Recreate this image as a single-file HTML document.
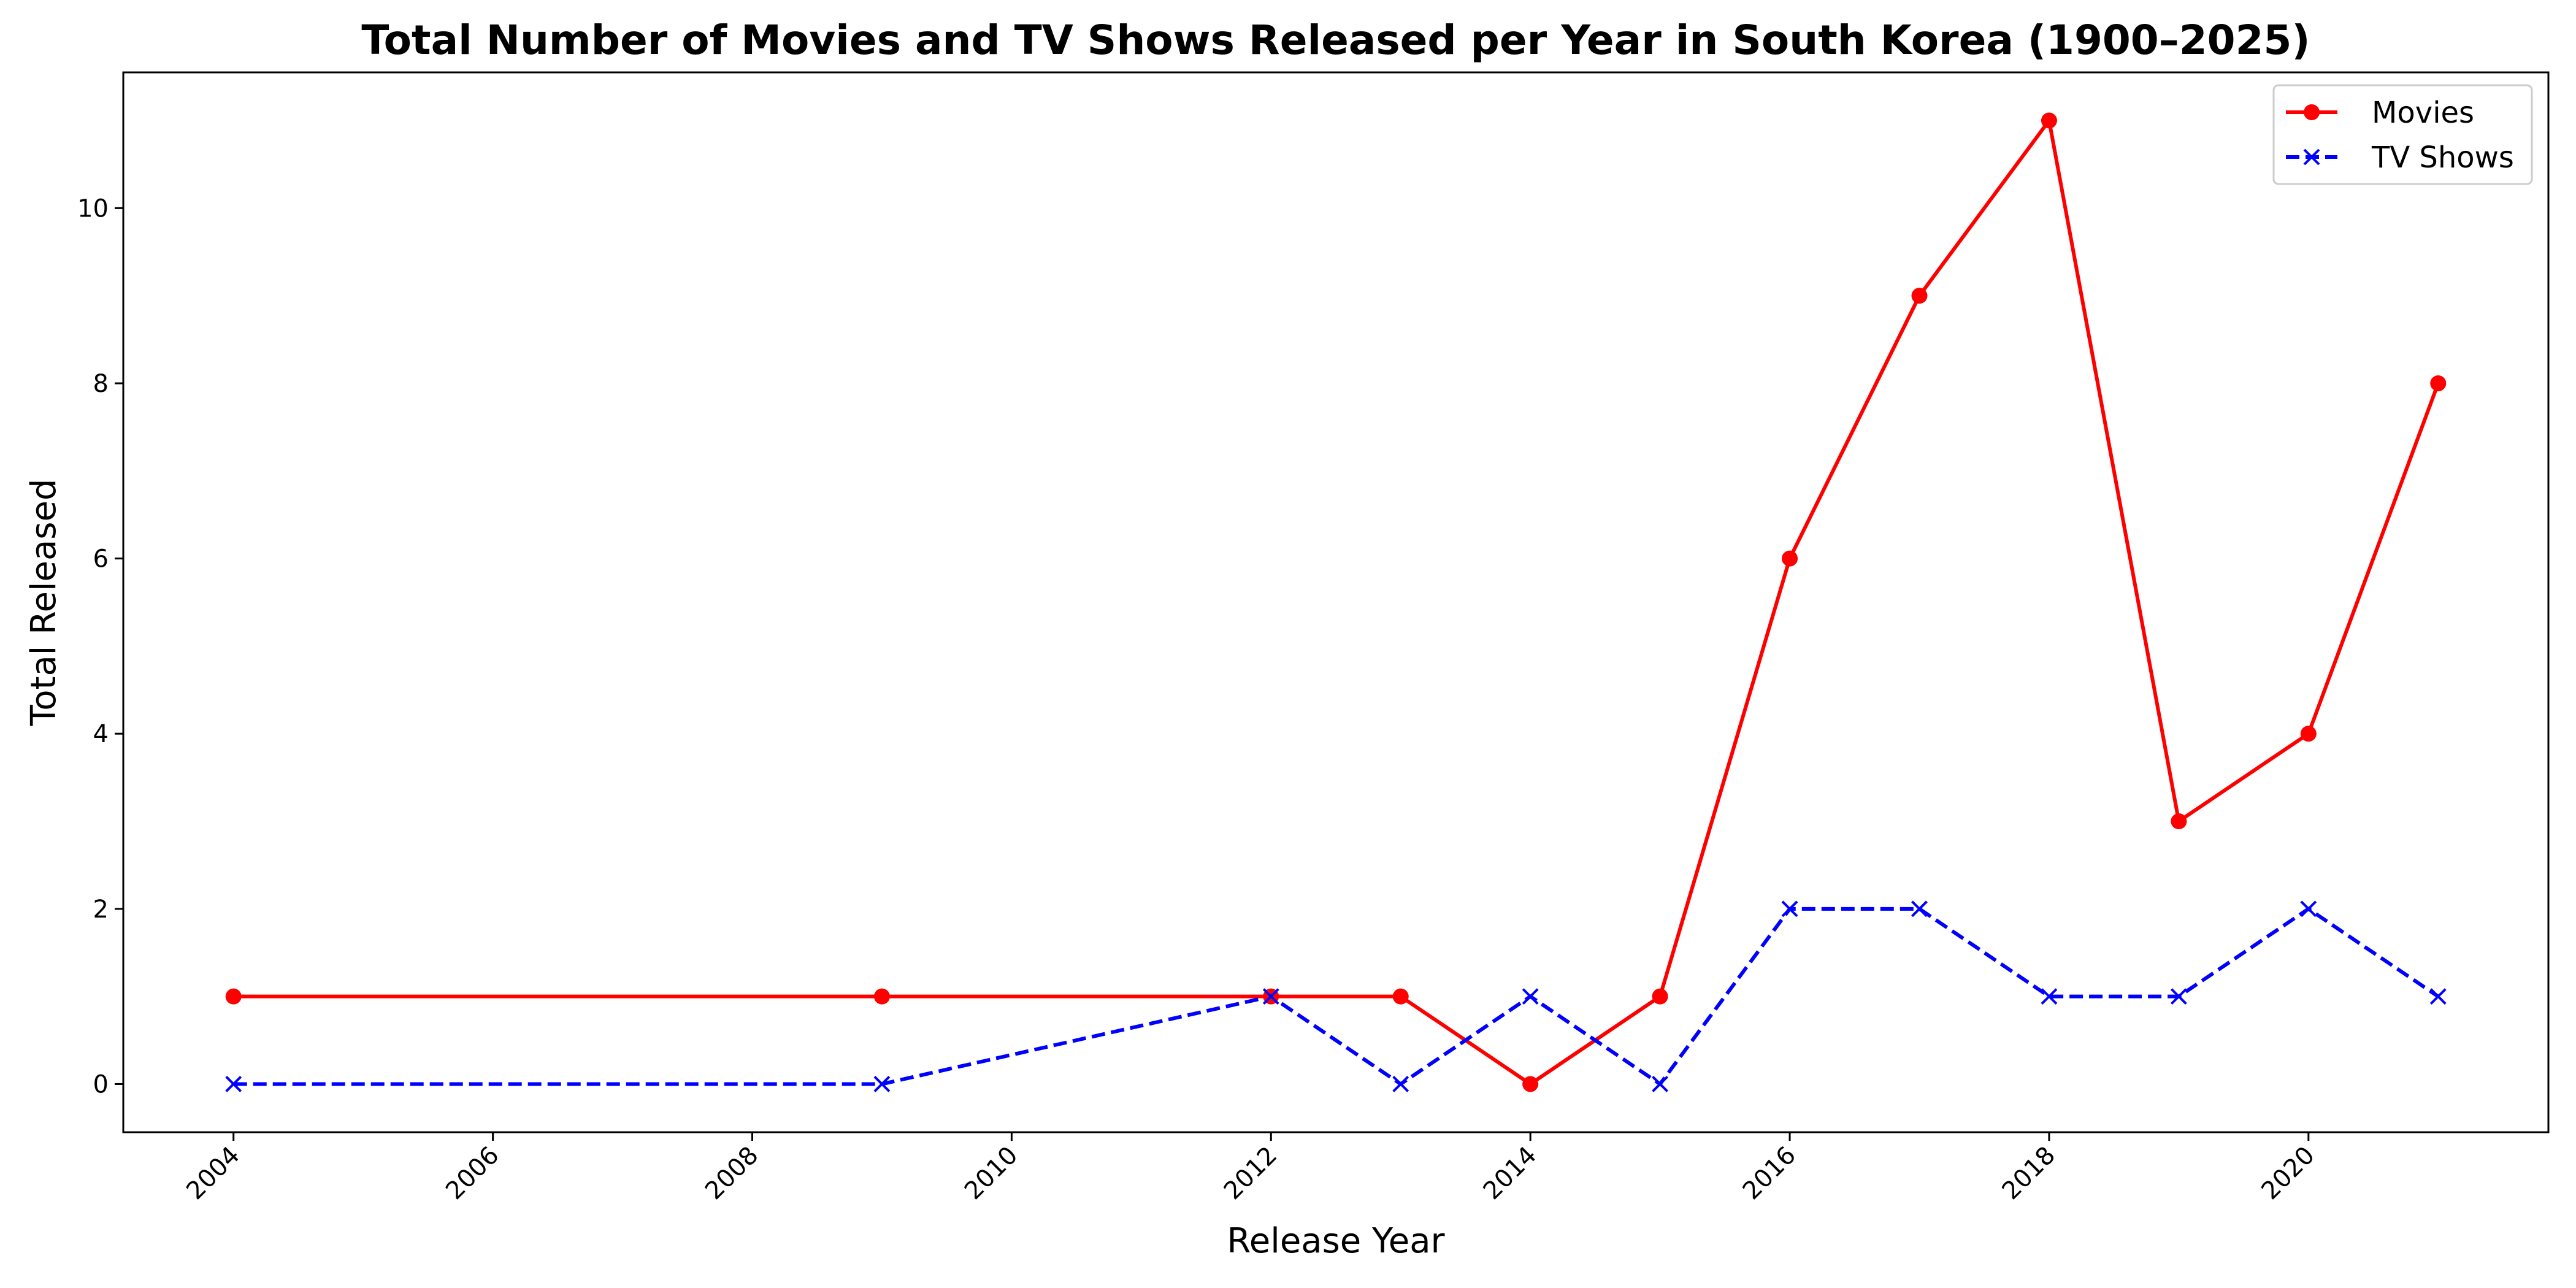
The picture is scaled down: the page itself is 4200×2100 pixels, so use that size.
<!DOCTYPE html>
<html><head><meta charset="utf-8"><style>
html,body{margin:0;padding:0;background:#fff;}
svg{display:block;font-family:"DejaVu Sans","Liberation Sans",sans-serif;}
</style></head><body>
<svg id="chart" width="4200" height="2100" viewBox="0 0 4200 2100" xmlns="http://www.w3.org/2000/svg">
<rect width="4200" height="2100" fill="#fff"/>
<text x="2178" y="88" text-anchor="middle" font-size="66" font-weight="bold">Total Number of Movies and TV Shows Released per Year in South Korea (1900–2025)</text>
<g id="grid"></g>
<g id="series"></g>
<rect x="201" y="118" width="3954" height="1728" fill="none" stroke="#000" stroke-width="3"/>
<g id="ticks"></g>
<text x="2178" y="2042" text-anchor="middle" font-size="56">Release Year</text>
<text transform="translate(90,982) rotate(-90)" text-anchor="middle" font-size="56">Total Released</text>
<g>
<rect x="3707" y="139" width="421" height="161" rx="8" fill="#fff" fill-opacity="0.8" stroke="#ccc" stroke-width="3"/>
<line x1="3727" y1="183" x2="3811" y2="183" stroke="red" stroke-width="6"/>
<circle cx="3769" cy="183" r="13" fill="red"/>
<text x="3867" y="200" font-size="48">Movies</text>
<line x1="3727" y1="256" x2="3811" y2="256" stroke="blue" stroke-width="6" stroke-dasharray="22,10"/>
<path d="M3757 244 L3781 268 M3781 244 L3757 268" stroke="blue" stroke-width="4"/>
<text x="3867" y="273" font-size="48">TV Shows</text>
</g>
</svg>
<script>
const years=[2004,2009,2012,2013,2014,2015,2016,2017,2018,2019,2020,2021];
const movies=[1,1,1,1,0,1,6,9,11,3,4,8];
const tvShows=[0,0,1,0,1,0,2,2,1,1,2,1];
const xTicks=[2004,2006,2008,2010,2012,2014,2016,2018,2020];
const yTicks=[0,2,4,6,8,10];
const NS="http://www.w3.org/2000/svg";
const L=201,R=4155,T=118,B=1846;
const xMin=2003.15,xMax=2021.85,yMin=-0.55,yMax=11.55;
const xs=v=>L+(v-xMin)/(xMax-xMin)*(R-L);
const ys=v=>B-(v-yMin)/(yMax-yMin)*(B-T);
function mk(tag,attrs,parent){const e=document.createElementNS(NS,tag);for(const k in attrs)e.setAttribute(k,attrs[k]);parent.appendChild(e);return e;}
const tk=document.getElementById('ticks');
xTicks.forEach(t=>{const x=xs(t);
 const l=mk('line',{x1:x,y1:B,x2:x,y2:B+14,stroke:'#000','stroke-width':3},tk);
 
 
 const tx=mk('text',{transform:`translate(${x+12},${B+40}) rotate(-45)`,'text-anchor':'end','font-size':40},tk);
 tx.textContent=t;
 
 
});
yTicks.forEach(t=>{const y=ys(t);
 const l=mk('line',{x1:L-14,y1:y,x2:L,y2:y,stroke:'#000','stroke-width':3},tk);
 
 
 const tx=mk('text',{x:L-24,y:y+14,'text-anchor':'end','font-size':40},tk);
 tx.textContent=t;
 
 
});
const sg=document.getElementById('series');
const mp=years.map((y,i)=>xs(y)+','+ys(movies[i])).join(' ');
const ml=mk('polyline',{points:mp,fill:'none',stroke:'red','stroke-width':6,'stroke-linejoin':'round'},sg);


const tp=years.map((y,i)=>xs(y)+','+ys(tvShows[i])).join(' ');
const tl=mk('polyline',{points:tp,fill:'none',stroke:'blue','stroke-width':6,'stroke-dasharray':'22,10'},sg);


years.forEach((y,i)=>{
 const c=mk('circle',{cx:xs(y),cy:ys(movies[i]),r:13,fill:'red'},sg);
 
 
 const x=xs(y),yy=ys(tvShows[i]);
 const p=mk('path',{d:`M${x-12} ${yy-12} L${x+12} ${yy+12} M${x+12} ${yy-12} L${x-12} ${yy+12}`,stroke:'blue','stroke-width':4},sg);
 
 
});
</script>
</body></html>
